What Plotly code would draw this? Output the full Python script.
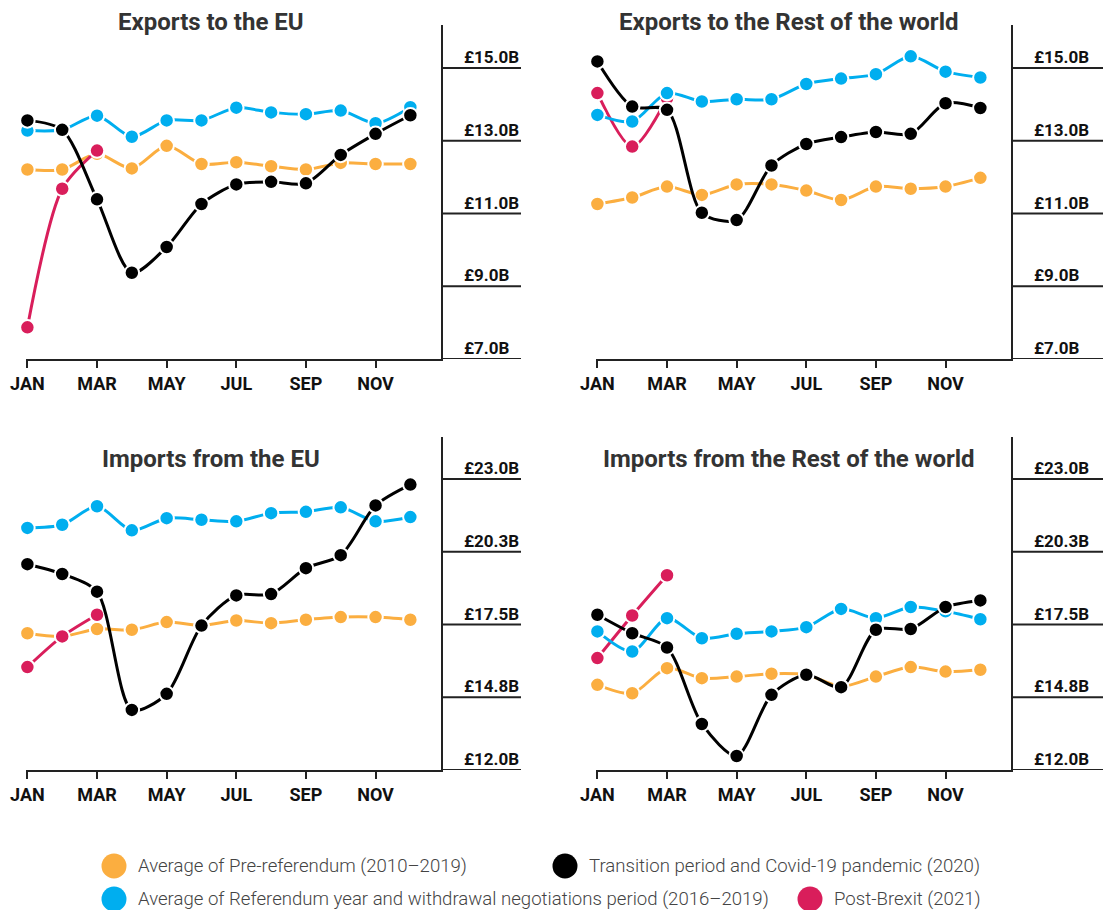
import plotly.graph_objects as go

W, H = 1103, 910

months = ["JAN", "FEB", "MAR", "APR", "MAY", "JUN", "JUL", "AUG", "SEP", "OCT", "NOV", "DEC"]
tick_labels = ["JAN", "MAR", "MAY", "JUL", "SEP", "NOV"]

titles = ["Exports to the EU", "Exports to the Rest of the world",
          "Imports from the EU", "Imports from the Rest of the world"]

exp_eu_pre = [12.21, 12.21, 12.64, 12.24, 12.86, 12.36, 12.41, 12.30, 12.21, 12.39, 12.36, 12.36]
exp_eu_ref = [13.28, 13.30, 13.69, 13.11, 13.56, 13.56, 13.91, 13.78, 13.73, 13.83, 13.48, 13.92]
exp_eu_2020 = [13.56, 13.30, 11.39, 9.37, 10.08, 11.26, 11.80, 11.87, 11.83, 12.61, 13.19, 13.70]
exp_eu_2021 = [7.87, 11.68, 12.73]

exp_row_pre = [11.26, 11.44, 11.74, 11.51, 11.80, 11.80, 11.63, 11.37, 11.74, 11.68, 11.74, 11.98]
exp_row_ref = [13.71, 13.53, 14.31, 14.08, 14.14, 14.14, 14.56, 14.71, 14.83, 15.32, 14.90, 14.74]
exp_row_2020 = [15.18, 13.94, 13.85, 11.02, 10.82, 12.32, 12.91, 13.10, 13.24, 13.19, 14.03, 13.90]
exp_row_2021 = [14.31, 12.84, 14.17]

imp_eu_pre = [17.17, 17.05, 17.33, 17.30, 17.59, 17.46, 17.65, 17.55, 17.68, 17.78, 17.78, 17.68]
imp_eu_ref = [21.15, 21.27, 21.97, 21.06, 21.52, 21.46, 21.40, 21.71, 21.76, 21.93, 21.40, 21.56]
imp_eu_2020 = [19.78, 19.41, 18.74, 14.27, 14.88, 17.46, 18.60, 18.65, 19.63, 20.12, 22.00, 22.79]
imp_eu_2021 = [15.89, 17.05, 17.87]

imp_row_pre = [15.22, 14.90, 15.85, 15.47, 15.53, 15.64, 15.60, 15.16, 15.53, 15.89, 15.72, 15.79]
imp_row_ref = [17.24, 16.48, 17.74, 16.98, 17.15, 17.24, 17.40, 18.09, 17.74, 18.16, 18.00, 17.70]
imp_row_2020 = [17.87, 17.17, 16.63, 13.74, 12.53, 14.84, 15.60, 15.13, 17.30, 17.33, 18.16, 18.41]
imp_row_2021 = [16.23, 17.84, 19.36]

export_ticks = [7.0, 9.0, 11.0, 13.0, 15.0]
export_tick_labels = ["£7.0B", "£9.0B", "£11.0B", "£13.0B", "£15.0B"]
import_ticks = [12.0, 14.75, 17.5, 20.25, 23.0]
import_tick_labels = ["£12.0B", "£14.8B", "£17.5B", "£20.3B", "£23.0B"]

series_names = ["Average of Pre-referendum (2010–2019)",
                "Post-Brexit (2021)",
                "Average of Referendum year and withdrawal negotiations period (2016–2019)",
                "Transition period and Covid-19 pandemic (2020)"]
colors = ["#FBAE40", "#D91E5B", "#00AEEF", "#000000"]

panels = [
    [exp_eu_pre, exp_eu_2021, exp_eu_ref, exp_eu_2020],
    [exp_row_pre, exp_row_2021, exp_row_ref, exp_row_2020],
    [imp_eu_pre, imp_eu_2021, imp_eu_ref, imp_eu_2020],
    [imp_row_pre, imp_row_2021, imp_row_ref, imp_row_2020],
]

# layout geometry in pixels
col_x = [(26, 441), (596, 1011)]
grid_end = [521, 1103]
label_x = [462, 1032]
title_cx = [211, 789]
row_y = [(25, 359), (437, 770)]
title_y = [22, 459]
ticks_by_row = [(export_ticks, export_tick_labels), (import_ticks, import_tick_labels)]
yranges = [(7.0, 7.0 + (359 - 25) / ((359 - 68) / 8.0)),
           (12.0, 12.0 + (770 - 437) / ((770 - 479) / 11.0))]


def px(x):
    return x / W


def py(y):
    return 1 - y / H


fig = go.Figure()
layout = dict(width=W, height=H, margin=dict(l=0, r=0, t=0, b=0, pad=0, autoexpand=False),
              paper_bgcolor="white", plot_bgcolor="white", showlegend=False,
              font=dict(family="Roboto, Lato, sans-serif", color="#222"))
shapes = []
annotations = []

for i, data in enumerate(panels):
    r, c = divmod(i, 2)
    n = i + 1
    xa = "x" if n == 1 else f"x{n}"
    ya = "y" if n == 1 else f"y{n}"
    xkey = "xaxis" if n == 1 else f"xaxis{n}"
    ykey = "yaxis" if n == 1 else f"yaxis{n}"
    x0, x1 = col_x[c]
    y0, y1 = row_y[r]
    layout[xkey] = dict(domain=[px(x0), px(x1)], anchor=ya, range=[-0.04, 11.88],
                        tickvals=[months.index(m) for m in tick_labels],
                        ticktext=[f"<b>{m}</b>" for m in tick_labels],
                        ticks="outside", ticklen=7, tickwidth=2, tickcolor="#222",
                        showline=True, linewidth=2, linecolor="#222",
                        showgrid=False, zeroline=False, automargin=False,
                        tickfont=dict(size=18, color="#111", family="Roboto"))
    layout[ykey] = dict(domain=[py(y1), py(y0)], anchor=xa, range=list(yranges[r]),
                        side="right", showline=True, linewidth=2, linecolor="#222",
                        showticklabels=False, ticks="", showgrid=False, zeroline=False,
                        automargin=False)
    for k, vals in enumerate(data):
        fig.add_trace(go.Scatter(
            x=[months.index(m) for m in months[:len(vals)]], y=vals, xaxis=xa, yaxis=ya,
            mode="lines+markers", name=series_names[k],
            line=dict(color=colors[k], width=3, shape="spline", smoothing=0.8),
            marker=dict(color=colors[k], size=14.5, line=dict(color="white", width=2)),
            cliponaxis=False, hoverinfo="skip"))
    tv, tl = ticks_by_row[r]
    for v, lab in zip(tv, tl):
        shapes.append(dict(type="line", xref="paper", yref=ya,
                           x0=px(x1), x1=px(grid_end[c]), y0=v, y1=v,
                           line=dict(color="#222", width=2)))
        annotations.append(dict(xref="paper", yref=ya, x=px(label_x[c]), y=v,
                                xanchor="left", yanchor="middle", yshift=11,
                                text=f"<b>{lab}</b>", showarrow=False,
                                font=dict(size=17, color="#111", family="Roboto")))
    annotations.append(dict(xref="paper", yref="paper", x=px(title_cx[c]), y=py(title_y[r]),
                            xanchor="center", yanchor="middle", showarrow=False,
                            text=f"<b>{titles[i]}</b>",
                            font=dict(size=24, color="#333", family="Roboto")))

# legend
legend_items = [(0, 114, 866), (3, 565, 866), (2, 114, 899), (1, 810, 899)]
rad = 12.5
for k, cx, cy in legend_items:
    shapes.append(dict(type="circle", xref="paper", yref="paper",
                       x0=px(cx - rad), x1=px(cx + rad), y0=py(cy + rad), y1=py(cy - rad),
                       fillcolor=colors[k], line=dict(width=0)))
    annotations.append(dict(xref="paper", yref="paper", x=px(cx + 22), y=py(cy),
                            xanchor="left", yanchor="middle", showarrow=False,
                            text=series_names[k],
                            font=dict(size=18.6, color="#444", family="Roboto", weight=300)))

layout["shapes"] = shapes
layout["annotations"] = annotations
fig.update_layout(**layout)
fig.write_html("out.html", config={"displayModeBar": False},
               post_script="document.body.style.margin='0';document.body.style.padding='0';"
                           "document.documentElement.style.overflow='hidden';")
